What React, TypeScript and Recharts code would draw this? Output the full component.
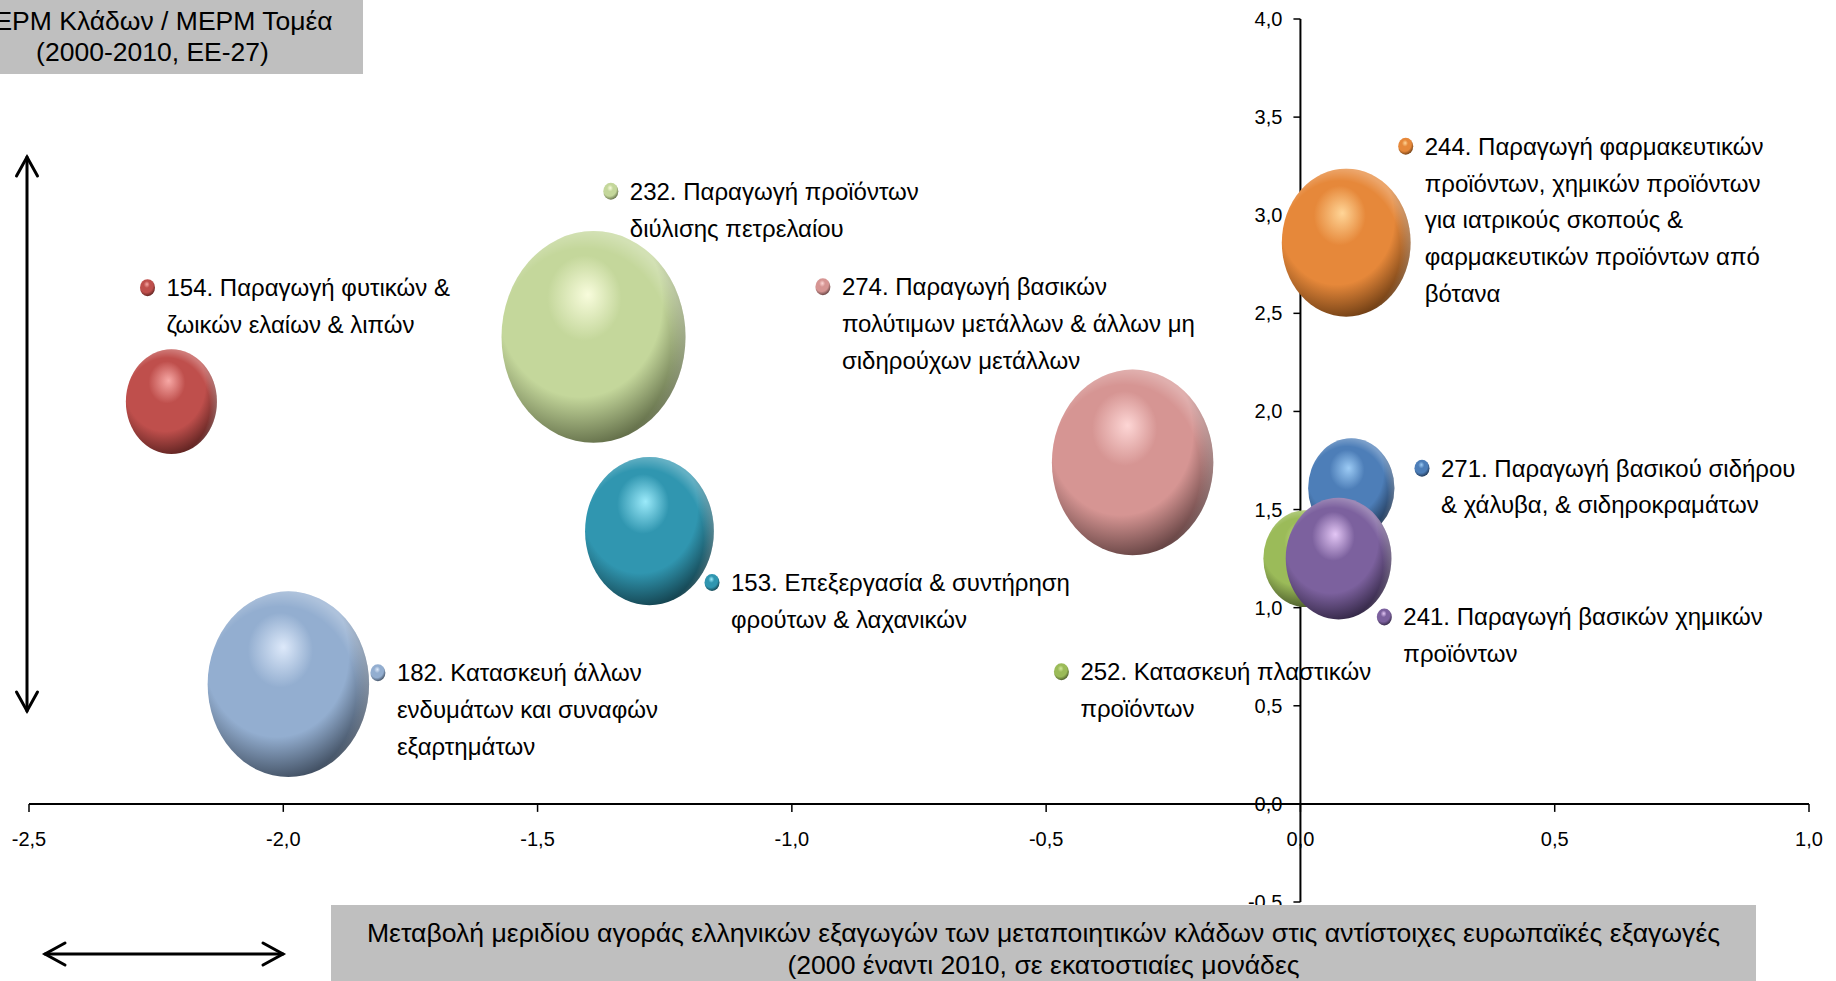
import React from 'react';
import { ScatterChart, Scatter, XAxis, YAxis, ZAxis, ReferenceLine, ReferenceDot } from 'recharts';

// sector labels, one entry per bubble (line breaks as in the original)
const sectorLabels = [
  ['154. Παραγωγή φυτικών &', 'ζωικών ελαίων & λιπών'],
  ['232. Παραγωγή προϊόντων', 'διύλισης πετρελαίου'],
  ['153. Επεξεργασία & συντήρηση', 'φρούτων & λαχανικών'],
  ['182. Κατασκευή άλλων', 'ενδυμάτων και συναφών', 'εξαρτημάτων'],
  ['274. Παραγωγή βασικών', 'πολύτιμων μετάλλων & άλλων μη', 'σιδηρούχων μετάλλων'],
  [
    '244. Παραγωγή φαρμακευτικών',
    'προϊόντων, χημικών προϊόντων',
    'για ιατρικούς σκοπούς &',
    'φαρμακευτικών προϊόντων από',
    'βότανα',
  ],
  ['271. Παραγωγή βασικού σιδήρου', '& χάλυβα, & σιδηροκραμάτων'],
  ['252. Κατασκευή πλαστικών', 'προϊόντων'],
  ['241. Παραγωγή βασικών χημικών', 'προϊόντων'],
];

// change of market share (x), ΜΕΡΜ ratio (y), bubble size (z)
const shareChange = [-2.22, -1.39, -1.28, -1.99, -0.33, 0.09, 0.1, 0.01, 0.075];
const rcaRatio = [2.05, 2.38, 1.39, 0.61, 1.74, 2.86, 1.61, 1.25, 1.25];
const bubbleSize = [24.5, 100, 49, 77, 77, 49, 22, 21, 33];

const xTicks = [-2.5, -2, -1.5, -1, -0.5, 0, 0.5, 1];
const yTicks = [-0.5, 0, 0.5, 1, 1.5, 2, 2.5, 3, 3.5, 4];

// where each data label sits (data units)
const labelX = [-2.267, -1.356, -1.157, -1.814, -0.939, 0.207, 0.239, -0.47, 0.165];
const labelY = [2.631, 3.122, 1.128, 0.668, 2.636, 3.351, 1.711, 0.673, 0.953];

// light / base / dark for the 3d ball look
const ballColors = [
  ['#F7A8A5', '#BF4F4C', '#4A1A18'],
  ['#F8FCDC', '#C4D79B', '#4C5636'],
  ['#9BEAFA', '#3096B0', '#0E3039'],
  ['#DDE9FA', '#93AED0', '#2E3948'],
  ['#FDD6D5', '#D69593', '#4A3030'],
  ['#FFD597', '#E6883A', '#552E0C'],
  ['#9CCBF5', '#4D7EB8', '#172840'],
  ['#D2E89A', '#9BBB59', '#36421E'],
  ['#E3C6F5', '#7C619E', '#241B33'],
];

const data = shareChange.map((x, i) => ({ i, x, y: rcaRatio[i], z: bubbleSize[i] }));

const FONT = "'Liberation Sans', Arial, sans-serif";
const fmt = (v: number) => v.toFixed(1).replace('.', ',');

const Bubble = (props: any) => {
  const { cx, cy, width, payload } = props;
  const rx = width / 2;
  return (
    <g>
      <ellipse cx={cx} cy={cy} rx={rx} ry={rx * 1.15} fill={`url(#ball-${payload.i})`} />
      <ellipse cx={cx} cy={cy} rx={rx} ry={rx * 1.15} fill="url(#rim)" />
    </g>
  );
};

const sectorLabel = (i: number) => (p: any) => (
  <g>
    <ellipse cx={p.cx} cy={p.cy} rx={7.5} ry={8.5} fill={`url(#ball-${i})`} />
    {sectorLabels[i].map((line, k) => (
      <text key={k} x={p.cx + 19} y={p.cy + 8.5 + k * 36.8} fontSize={24} fontFamily={FONT} fill="#000">
        {line}
      </text>
    ))}
  </g>
);

const xTick = (t: number) => (p: any) => (
  <g>
    <line x1={p.cx} y1={p.cy} x2={p.cx} y2={p.cy + 8} stroke="#000" strokeWidth={1.5} />
    <text x={p.cx} y={p.cy + 42} textAnchor="middle" fontSize={20} fontFamily={FONT} fill="#000">
      {fmt(t)}
    </text>
  </g>
);

const yTick = (t: number) => (p: any) => (
  <g>
    <line x1={p.cx - 7} y1={p.cy} x2={p.cx} y2={p.cy} stroke="#000" strokeWidth={1.5} />
    <text x={p.cx - 18} y={p.cy + 7} textAnchor="end" fontSize={20} fontFamily={FONT} fill="#000">
      {fmt(t)}
    </text>
  </g>
);

const App: React.FC = () => {
  return (
    <div style={{ position: 'absolute', left: 0, top: 0, width: 1836, height: 981, background: '#fff', overflow: 'hidden' }}>
      <ScatterChart width={1836} height={981} margin={{ top: 19, right: 27, bottom: 79, left: 29 }}>
        <defs>
          {ballColors.map((c, i) => (
            <radialGradient key={i} id={`ball-${i}`} cx="40%" cy="36%" r="72%" fx="47%" fy="30%">
              <stop offset="0%" stopColor={c[0]} />
              <stop offset="28%" stopColor={c[1]} />
              <stop offset="62%" stopColor={c[1]} />
              <stop offset="100%" stopColor={c[2]} />
            </radialGradient>
          ))}
          <radialGradient id="rim" cx="45%" cy="55%" r="55%">
            <stop offset="85%" stopColor="#fff" stopOpacity={0} />
            <stop offset="100%" stopColor="#fff" stopOpacity={0.25} />
          </radialGradient>
        </defs>
        <XAxis type="number" dataKey="x" domain={[-2.5, 1]} ticks={xTicks} hide />
        <YAxis type="number" dataKey="y" domain={[-0.5, 4]} ticks={yTicks} hide />
        <ZAxis type="number" dataKey="z" domain={[0, 100]} range={[0, 26590]} />

        {sectorLabels.map((_, i) => (
          <ReferenceDot key={`l${i}`} x={labelX[i]} y={labelY[i]} r={0} shape={sectorLabel(i)} zIndex={100} />
        ))}

        <ReferenceLine y={0} stroke="#000" strokeWidth={2} zIndex={200} />
        <ReferenceLine x={0} stroke="#000" strokeWidth={2} zIndex={200} />
        {xTicks.map((t) => (
          <ReferenceDot key={`x${t}`} x={t} y={0} r={0} shape={xTick(t)} zIndex={200} />
        ))}
        {yTicks.map((t) => (
          <ReferenceDot key={`y${t}`} x={0} y={t} r={0} shape={yTick(t)} zIndex={200} />
        ))}

        <Scatter data={data} shape={Bubble} isAnimationActive={false} zIndex={600} />
      </ScatterChart>

      <div
        style={{
          position: 'absolute',
          left: -58,
          top: 0,
          width: 421,
          height: 74,
          background: '#BFBFBF',
          fontFamily: FONT,
          fontSize: 26.5,
          lineHeight: '31px',
          textAlign: 'center',
          paddingTop: 6,
          boxSizing: 'border-box',
          whiteSpace: 'nowrap',
        }}
      >
        ΜΕΡΜ Κλάδων / ΜΕΡΜ Τομέα
        <br />
        (2000-2010, ΕΕ-27)
      </div>

      <div
        style={{
          position: 'absolute',
          left: 331,
          top: 905,
          width: 1425,
          height: 76,
          background: '#BFBFBF',
          fontFamily: FONT,
          fontSize: 26.6,
          lineHeight: '31.6px',
          textAlign: 'center',
          paddingTop: 13,
          boxSizing: 'border-box',
          whiteSpace: 'nowrap',
        }}
      >
        Μεταβολή μεριδίου αγοράς ελληνικών εξαγωγών των μεταποιητικών κλάδων στις αντίστοιχες ευρωπαϊκές εξαγωγές
        <br />
        (2000 έναντι 2010, σε εκατοστιαίες μονάδες
      </div>

      <svg width={1836} height={981} style={{ position: 'absolute', left: 0, top: 0, pointerEvents: 'none' }}>
        <g stroke="#000" strokeWidth={3} fill="none" strokeLinecap="round" strokeLinejoin="miter">
          <line x1={27} y1={157} x2={27} y2={711} />
          <polyline points="16.5,176 27,157 37.5,176" />
          <polyline points="16.5,692 27,711 37.5,692" />
          <line x1={45} y1={954} x2={283} y2={954} />
          <polyline points="65,943 45,954 65,965" />
          <polyline points="263,943 283,954 263,965" />
        </g>
      </svg>
    </div>
  );
};

export default App;
